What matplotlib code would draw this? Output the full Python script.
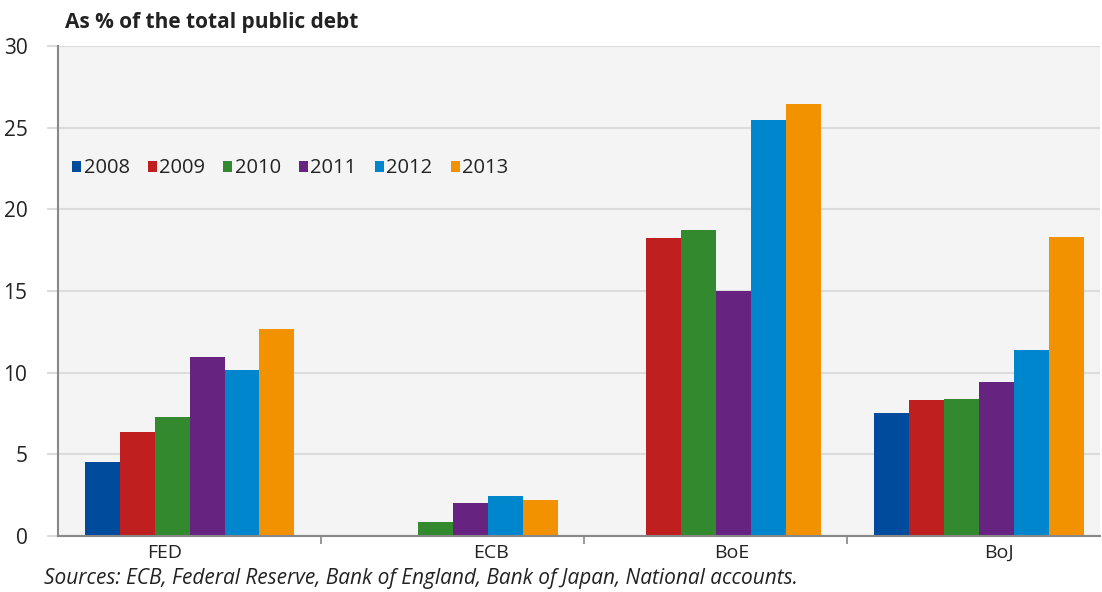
import numpy as np
import matplotlib
matplotlib.use("Agg")
import matplotlib.pyplot as plt
from matplotlib.ticker import MultipleLocator

plt.rcParams['font.family'] = ['Open Sans', 'DejaVu Sans']

banks = ["FED", "ECB", "BoE", "BoJ"]
years = ["2008", "2009", "2010", "2011", "2012", "2013"]
colors = ["#004b9b", "#c01f20", "#338a2e", "#66237f", "#0086cd", "#f39200"]

# % of total public debt, rows = years, cols = banks
v2008 = [4.5, 0.0, 0.0, 7.5]
v2009 = [6.35, 0.0, 18.25, 8.3]
v2010 = [7.3, 0.85, 18.75, 8.4]
v2011 = [10.95, 2.0, 15.0, 9.4]
v2012 = [10.15, 2.42, 25.5, 11.4]
v2013 = [12.67, 2.18, 26.5, 18.3]
values = [v2008, v2009, v2010, v2011, v2012, v2013]

fig = plt.figure(figsize=(11.02, 5.92), dpi=100)
ax = fig.add_axes([0.0526, 0.0954, 0.9454, 0.8261])
ax.set_facecolor("#f4f4f4")

x = np.arange(len(banks))
w = 0.133
for i, (yr, vals, c) in enumerate(zip(years, values, colors)):
    ax.bar(x + (i - 2.5) * w, vals, width=w, color=c, label=yr, zorder=3)

ax.set_xlim(-0.5, 3.46)
ax.set_ylim(0, 30)
ax.yaxis.set_major_locator(MultipleLocator(5))
ax.grid(axis="y", color="#dcdcdc", linewidth=1.5, zorder=0)

# labels slightly off-center as in the source
label_shift = [-0.095, 0.145, 0.06, 0.075]
ax.set_xticks(x + np.array(label_shift))
ax.set_xticklabels(banks, fontsize=14, color="#222222")
ax.set_xticks(x[:-1] + 0.5, minor=True)
ax.tick_params(axis="x", which="major", length=0, pad=6)
ax.tick_params(axis="x", which="minor", length=6, color="#888888", width=1.2)
ax.tick_params(axis="y", length=8, color="#dcdcdc", width=1.5, labelsize=15,
               labelcolor="#222222", pad=14)

for s in ["top", "right"]:
    ax.spines[s].set_visible(False)
for s in ["left", "bottom"]:
    ax.spines[s].set_color("#888888")
    ax.spines[s].set_linewidth(1.5)
    ax.spines[s].set_zorder(4)

leg = ax.legend(loc="upper left", bbox_to_anchor=(0.0, 0.8), ncol=6, frameon=False,
                fontsize=14.5, handlelength=0.45, handleheight=0.45, handletextpad=0.12,
                columnspacing=0.9, borderaxespad=0.3)
for t in leg.get_texts():
    t.set_color("#222222")

fig.text(0.059, 0.962, "As % of the total public debt", fontsize=15, fontweight="bold",
         color="#222222", va="center")
fig.text(0.04, 0.023, "Sources: ECB, Federal Reserve, Bank of England, Bank of Japan, National accounts.",
         fontsize=15, style="italic", color="#222222", va="center")

fig.savefig("out.png", dpi=100)
